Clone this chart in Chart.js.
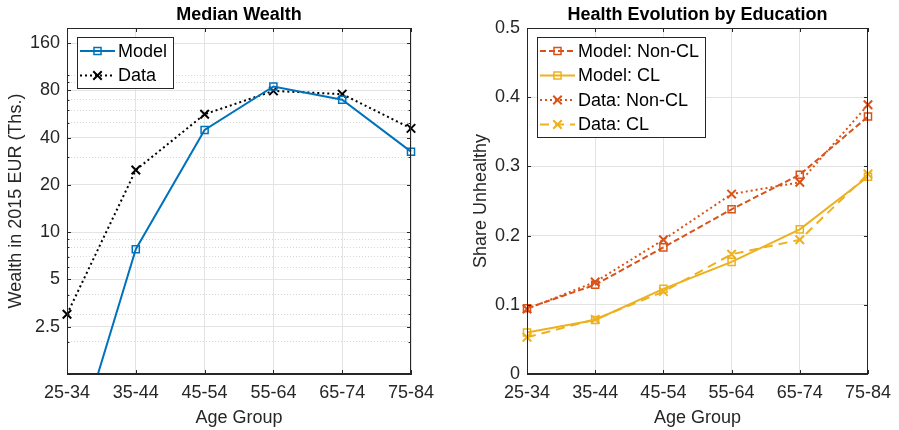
<!DOCTYPE html>
<html>
<head>
<meta charset="utf-8">
<script src="https://cdn.jsdelivr.net/npm/chart.js@4"></script>
<style>
  body { margin: 0; background: #fff; }
  #wrap { position: relative; width: 899px; height: 430px; }
  canvas { position: absolute; top: 0; }
</style>
</head>
<body>
<div id="wrap">
  <canvas id="wealth" width="450" height="430" style="left:0"></canvas>
  <canvas id="health" width="449" height="430" style="left:450px"></canvas>
</div>
<script>
// --- data ---
const ageGroups = ['25-34', '35-44', '45-54', '55-64', '65-74', '75-84'];

const wealthModel = [0.28, 7.8, 44.8, 84.8, 69.8, 32.6];
const wealthData = [3.0, 24.9, 56.4, 79.5, 75.8, 45.9];
const wealthTicks = [2.5, 5, 10, 20, 40, 80, 160];
const wealthMinor = [2, 3, 4, 6, 7, 8, 9, 30, 50, 60, 70, 90, 100, 200];

const healthModelNonCL = [0.095, 0.129, 0.183, 0.238, 0.288, 0.372];
const healthModelCL = [0.060, 0.078, 0.123, 0.162, 0.209, 0.285];
const healthDataNonCL = [0.094, 0.133, 0.194, 0.260, 0.277, 0.389];
const healthDataCL = [0.053, 0.079, 0.119, 0.173, 0.194, 0.289];

const FONT = "'Liberation Sans', Arial, Helvetica, sans-serif";
const AX = '#262626';
const BLUE = '#0072BD', RED = '#D95319', YELLOW = '#EDB120';

Chart.defaults.font.family = FONT;
Chart.defaults.font.size = 18;
Chart.defaults.color = AX;
Chart.defaults.animation = false;

function marker(ctx, style, r, x, y) {
    ctx.beginPath();
    if (style === 'rect') {
        const s = r * Math.SQRT1_2;
        ctx.rect(x - s, y - s, 2 * s, 2 * s);
    } else {
        const s = r * Math.SQRT1_2;
        ctx.moveTo(x - s, y - s); ctx.lineTo(x + s, y + s);
        ctx.moveTo(x - s, y + s); ctx.lineTo(x + s, y - s);
    }
    ctx.stroke();
}

// box, inward ticks, title and legend like the matlab axes
const matlabFrame = {
    id: 'matlabFrame',
    afterDatasetsDraw(chart, args, opts) {
        const { ctx, chartArea: a, scales } = chart;
        const xs = scales.x, ys = scales.y;
        ctx.save();
        ctx.strokeStyle = AX;
        ctx.lineWidth = 1;
        ctx.setLineDash([]);
        ctx.beginPath();
        xs.ticks.forEach((t, i) => {
            const px = Math.round(xs.getPixelForTick(i)) + 0.5;
            ctx.moveTo(px, a.bottom); ctx.lineTo(px, a.bottom - 4);
            ctx.moveTo(px, a.top); ctx.lineTo(px, a.top + 4);
        });
        ys.ticks.forEach((t, i) => {
            const py = Math.round(ys.getPixelForTick(i)) + 0.5;
            const len = t.minor ? 2.5 : 4;
            ctx.moveTo(a.left, py); ctx.lineTo(a.left + len, py);
            ctx.moveTo(a.right, py); ctx.lineTo(a.right - len, py);
        });
        ctx.stroke();
        ctx.strokeRect(Math.round(a.left) + 0.5, Math.round(a.top) + 0.5,
            Math.round(a.right - a.left) - 1, Math.round(a.bottom - a.top) - 1);

        // title
        ctx.fillStyle = '#000';
        ctx.font = `bold 18px ${FONT}`;
        ctx.textAlign = 'center';
        ctx.textBaseline = 'middle';
        ctx.fillText(opts.title, (a.left + a.right) / 2, 15);

        // legend
        const ds = chart.data.datasets;
        ctx.font = `18px ${FONT}`;
        const tw = Math.max(...ds.map(d => ctx.measureText(d.label).width));
        const bx = Math.round(a.left + 10), by = Math.round(a.top + 9);
        const bw = Math.round(41 + tw + 6), bh = Math.round(26 + 24.5 * (ds.length - 1));
        ctx.fillStyle = '#fff';
        ctx.fillRect(bx, by, bw, bh);
        ctx.strokeStyle = AX;
        ctx.strokeRect(bx + 0.5, by + 0.5, bw, bh);
        ds.forEach((d, i) => {
            const cy = by + 14 + 24.5 * i;
            ctx.strokeStyle = d.borderColor;
            ctx.lineWidth = d.borderWidth;
            ctx.setLineDash(d.borderDash || []);
            ctx.beginPath();
            ctx.moveTo(bx + 3, cy); ctx.lineTo(bx + 38, cy);
            ctx.stroke();
            ctx.setLineDash([]);
            ctx.lineWidth = d.pointBorderWidth;
            marker(ctx, d.pointStyle, d.pointRadius, bx + 20.5, cy);
            ctx.fillStyle = '#000';
            ctx.textAlign = 'left';
            ctx.fillText(d.label, bx + 41, cy + 1);
        });
        ctx.restore();
    }
};

function series(label, data, color, dash, style, width) {
    return {
        label: label,
        data: data,
        borderColor: color,
        borderWidth: width || 2,
        borderDash: dash,
        pointStyle: style,
        pointRadius: style === 'rect' ? 5 : 6,
        pointBorderWidth: style === 'rect' ? 1.5 : 2,
        pointBorderColor: color,
        pointBackgroundColor: 'rgba(0,0,0,0)',
        tension: 0,
        fill: false
    };
}

function xAxis() {
    return {
        type: 'category',
        grid: { color: '#e3e3e3', drawTicks: false },
        border: { color: AX },
        ticks: { padding: 8, maxRotation: 0, autoSkip: false, color: AX },
        title: { display: true, text: 'Age Group', padding: { top: 0, bottom: 1 } },
        afterFit(scale) { scale.height = 56; }
    };
}

new Chart(document.getElementById('wealth'), {
    type: 'line',
    data: {
        labels: ageGroups,
        datasets: [
            series('Model', wealthModel, BLUE, [], 'rect'),
            series('Data', wealthData, '#000', [2, 3], 'crossRot')
        ]
    },
    options: {
        responsive: false,
        layout: { padding: { top: 28, left: 0, right: 39, bottom: 0 } },
        plugins: {
            legend: { display: false },
            tooltip: { enabled: false },
            matlabFrame: { title: 'Median Wealth' }
        },
        scales: {
            x: xAxis(),
            y: {
                type: 'logarithmic',
                min: 1.25,
                max: 200,
                afterBuildTicks(scale) {
                    const vals = wealthTicks.concat(wealthMinor).sort((p, q) => p - q);
                    scale.ticks = vals.map(v => ({ value: v, minor: !wealthTicks.includes(v) }));
                },
                ticks: {
                    padding: 7,
                    color: AX,
                    autoSkip: false,
                    callback: v => wealthTicks.includes(v) ? String(v) : ''
                },
                grid: {
                    drawTicks: false,
                    color: c => (c.tick && !wealthTicks.includes(c.tick.value)) ? '#d6d6d6' : '#e3e3e3'
                },
                border: {
                    color: AX,
                    dash: c => (c.tick && !wealthTicks.includes(c.tick.value)) ? [1, 2] : []
                },
                title: { display: true, text: 'Wealth in 2015 EUR (Ths.)', padding: { top: 5, bottom: 0 } },
                afterFit(scale) { scale.width = 67; }
            }
        }
    },
    plugins: [matlabFrame]
});

new Chart(document.getElementById('health'), {
    type: 'line',
    data: {
        labels: ageGroups,
        datasets: [
            series('Model: Non-CL', healthModelNonCL, RED, [6, 3], 'rect'),
            series('Model: CL', healthModelCL, YELLOW, [], 'rect'),
            series('Data: Non-CL', healthDataNonCL, RED, [2, 3], 'crossRot'),
            series('Data: CL', healthDataCL, YELLOW, [9, 6], 'crossRot')
        ]
    },
    options: {
        responsive: false,
        layout: { padding: { top: 28, left: 0, right: 28, bottom: 0 } },
        plugins: {
            legend: { display: false },
            tooltip: { enabled: false },
            matlabFrame: { title: 'Health Evolution by Education' }
        },
        scales: {
            x: xAxis(),
            y: {
                min: 0,
                max: 0.5,
                ticks: { stepSize: 0.1, padding: 7, color: AX },
                grid: { drawTicks: false, color: '#e3e3e3' },
                border: { color: AX },
                title: { display: true, text: 'Share Unhealthy', padding: { top: 20, bottom: 0 } },
                afterFit(scale) { scale.width = 77; }
            }
        }
    },
    plugins: [matlabFrame]
});
</script>
</body>
</html>
